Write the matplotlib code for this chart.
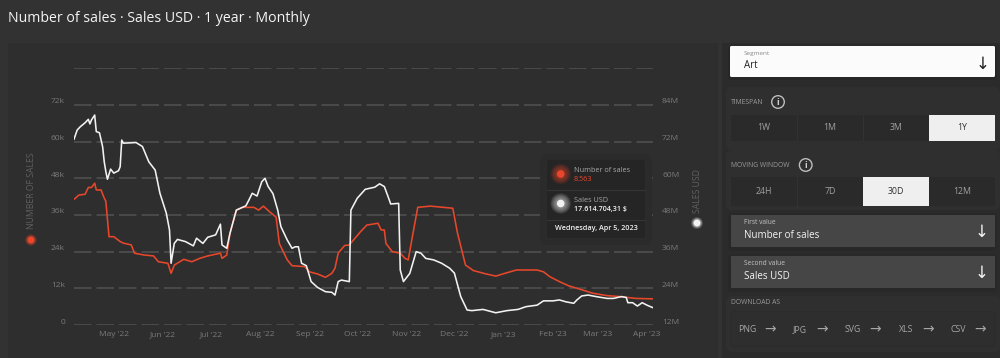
import matplotlib
matplotlib.use("Agg")
import matplotlib.pyplot as plt
import matplotlib.dates as mdates
from matplotlib.patches import FancyBboxPatch, Circle, Rectangle
from matplotlib.transforms import ScaledTranslation
import pandas as pd

plt.rcParams['font.family'] = ['Open Sans', 'DejaVu Sans']
plt.rcParams['lines.scale_dashes'] = False

# ---------------- data ----------------
START = "2022-04-06"
END = "2023-04-05"

# Number of sales (thousands), 30D moving window
sales_day = [0, 3, 7, 9, 11, 13, 14, 17, 19, 20, 22, 25, 29, 31, 36, 38, 44, 50, 53, 59,
             61, 63, 69, 74, 79, 84, 92, 93, 96, 98, 102, 106, 113, 116, 119, 123, 127,
             129, 134, 137, 145, 148, 153, 158, 162, 164, 166, 170, 173, 180, 184, 191,
             193, 195, 196, 200, 205, 208, 210, 213, 216, 224, 232, 238, 241, 246, 251,
             259, 265, 272, 278, 291, 295, 299, 305, 311, 318, 326, 335, 343, 353, 360, 364]
sales_k = [41.1, 42.5, 42.8, 45.0, 45.0, 46.4, 44.2, 44.2, 41.5, 40.5, 28.9, 28.9, 27.3,
           26.8, 26.2, 23.5, 22.9, 22.6, 20.7, 20.2, 16.9, 19.6, 21.5, 20.7, 21.8, 22.6,
           23.5, 21.8, 22.9, 30.0, 37.6, 38.5, 38.5, 37.6, 38.9, 37.0, 35.3, 26.7, 21.3,
           19.4, 19.1, 17.4, 16.7, 15.6, 16.9, 18.6, 23.5, 26.0, 26.2, 30.5, 32.7, 33.3,
           31.1, 31.1, 26.7, 24.0, 23.5, 21.8, 21.3, 30.0, 38.5, 38.9, 38.5, 38.2, 30.0,
           19.6, 17.8, 16.7, 16.0, 17.1, 18.0, 18.0, 17.4, 15.8, 14.2, 12.8, 11.7, 10.4,
           9.6, 9.3, 8.7, 8.6, 8.563]

# Sales USD (millions), 30D moving window
usd_day = [0, 2, 4, 7, 9, 10, 11, 13, 14, 16, 18, 19, 20, 21, 23, 25, 28, 29, 30, 31, 39,
           43, 47, 51, 54, 58, 60, 61, 63, 65, 70, 75, 77, 81, 84, 89, 92, 93, 96, 98, 102,
           108, 110, 112, 115, 118, 120, 122, 125, 128, 130, 134, 137, 139, 141, 143, 146,
           149, 153, 158, 162, 164, 166, 168, 173, 174, 178, 183, 189, 192, 195, 197, 199,
           204, 205, 207, 211, 215, 218, 221, 226, 231, 236, 239, 243, 247, 250, 257, 265,
           272, 279, 284, 291, 295, 301, 305, 309, 314, 316, 319, 323, 328, 335, 339, 344,
           347, 348, 351, 354, 357, 360, 364]
usd_m = [72.8, 75.8, 76.9, 78.2, 79.3, 77.8, 79.1, 80.7, 75.3, 74.9, 70.3, 65.4, 62.2,
         59.7, 63.0, 61.7, 62.5, 63.8, 72.5, 71.5, 71.7, 70.4, 65.4, 62.7, 55.1, 48.6, 43.1,
         32.2, 38.7, 40.0, 39.3, 37.9, 40.4, 38.7, 40.7, 41.5, 45.0, 38.2, 37.1, 42.0, 49.6,
         51.0, 53.0, 55.1, 54.2, 58.9, 60.0, 57.3, 55.0, 49.6, 44.2, 39.8, 37.1, 37.6, 37.6,
         32.2, 31.4, 26.2, 24.3, 22.9, 22.7, 21.8, 26.2, 26.7, 26.2, 49.6, 53.5, 56.4, 57.1,
         58.2, 57.3, 54.5, 51.6, 51.8, 30.0, 26.2, 28.9, 36.0, 35.5, 33.8, 33.3, 32.2, 30.6,
         29.0, 21.3, 16.9, 16.7, 17.1, 16.0, 16.7, 17.1, 18.0, 18.5, 19.9, 19.9, 20.2, 19.6,
         19.1, 20.2, 21.5, 21.8, 21.3, 20.7, 20.7, 21.3, 21.0, 19.3, 19.3, 18.2, 19.3, 18.5,
         17.61]

left_ticks = [0, 12, 24, 36, 48, 60, 72, 84]
left_labels = ["0", "12k", "24k", "36k", "48k", "60k", "72k", ""]
right_ticks = [12, 24, 36, 48, 60, 72, 84]
right_labels = ["12M", "24M", "36M", "48M", "60M", "72M", "84M"]

title = "Number of sales \u00b7 Sales USD \u00b7 1 year \u00b7 Monthly"
timespan_opts = ["1W", "1M", "3M", "1Y"]
window_opts = ["24H", "7D", "30D", "12M"]
download_opts = ["PNG", "JPG", "SVG", "XLS", "CSV"]

RED = "#e8472b"
WHITE = "#f2f2f2"

sales_dates = pd.to_datetime(START) + pd.to_timedelta(sales_day, unit="D")
usd_dates = pd.to_datetime(START) + pd.to_timedelta(usd_day, unit="D")

# ---------------- figure ----------------
W, H = 1000, 358
fig = plt.figure(figsize=(W / 100, H / 100), dpi=100, facecolor="#323232")

bg = fig.add_axes([0, 0, 1, 1], zorder=0)
bg.set_xlim(0, W); bg.set_ylim(H, 0); bg.axis("off")

def rrect(axx, x0, y0, x1, y1, color, r=3, z=1, ec="none", lw=0):
    p = FancyBboxPatch((x0, y0), x1 - x0, y1 - y0,
                       boxstyle=f"round,pad=0,rounding_size={r}",
                       fc=color, ec=ec, lw=lw, zorder=z)
    axx.add_patch(p)
    return p

# panels
rrect(bg, 8, 43, 718, 362, "#2e2e2e", r=2)
rrect(bg, 722, 43, 1000, 362, "#2b2b2b", r=2)

bg.text(8, 18, title, color="#f4f4f4", fontsize=10.2, ha="left", va="center")

# ---------------- main chart ----------------
ax = fig.add_axes([74 / W, (H - 325) / H, (653.3 - 74) / W, (325 - 68.3) / H], zorder=2)
ax.patch.set_alpha(0)
ax2 = ax.twinx()
ax2.set_zorder(2)
ax2.patch.set_alpha(0)

ax.plot(sales_dates, sales_k, color=RED, lw=1.15, zorder=3, solid_joinstyle="round")
ax2.plot(usd_dates, usd_m, color=WHITE, lw=1.15, zorder=3, solid_joinstyle="round")

ax.set_xlim(pd.to_datetime(START), pd.to_datetime(END))
ax.set_ylim(0, 84)
ax2.set_ylim(12, 96)

for a in (ax, ax2):
    for s in a.spines.values():
        s.set_visible(False)

ax.set_yticks(left_ticks)
ax.set_yticklabels(left_labels)
ax2.set_yticks(right_ticks)
ax2.set_yticklabels(right_labels)

ax.yaxis.grid(True, color="#4f4f4f", lw=1.2, linestyle=(0, (12.6, 3.6)))
ax.set_axisbelow(True)

ax.tick_params(axis="y", length=0, pad=6.5, labelsize=6, labelcolor="#7a7a7a")
ax2.tick_params(axis="y", length=0, pad=6.3, labelsize=6, labelcolor="#7a7a7a")
ax.xaxis.set_major_locator(mdates.MonthLocator())
ax.xaxis.set_major_formatter(mdates.DateFormatter("%b '%y"))
ax.tick_params(axis="x", length=0, pad=4.5, labelsize=6, labelcolor="#7a7a7a")

up = ScaledTranslation(0, 4 / 100, fig.dpi_scale_trans)
for t in ax.get_yticklabels() + ax2.get_yticklabels():
    t.set_transform(t.get_transform() + up)

# ---------------- overlay ----------------
ov = fig.add_axes([0, 0, 1, 1], zorder=5)
ov.set_xlim(0, W); ov.set_ylim(H, 0); ov.axis("off")
ov.patch.set_alpha(0)

def glow_dot(x, y, color, r, glow, a=0.07):
    n = 8
    for i in range(n, 0, -1):
        rr = r + glow * i / n
        ov.add_patch(Circle((x, y), rr, fc=color, ec="none", alpha=a, zorder=20))
    ov.add_patch(Circle((x, y), r, fc=color, ec="none", zorder=21))

# axis titles
ov.text(31, 191, "NUMBER OF SALES", rotation=90, color="#606060", fontsize=6.2,
        ha="center", va="center")
glow_dot(31, 240, RED, 3.4, 2.5, 0.1)
ov.text(697, 191.5, "SALES USD", rotation=90, color="#606060", fontsize=6.2,
        ha="center", va="center")
glow_dot(697, 223, WHITE, 3.4, 2.5, 0.1)

# tooltip
rrect(ov, 540, 154, 652, 245, "#2b2b2b", r=8, z=10)
rrect(ov, 547, 160, 645, 238, "#252525", r=2, z=11)
ov.plot([547, 645], [189.5, 189.5], color="#363636", lw=0.8, zorder=12)
ov.plot([547, 645], [219.5, 219.5], color="#363636", lw=0.8, zorder=12)
glow_dot(560.7, 174, RED, 3.8, 6.5, 0.085)
glow_dot(560.7, 203.5, WHITE, 3.8, 6.5, 0.085)
ov.text(574, 170.5, "Number of sales", color="#a8a8a8", fontsize=5.2, ha="left", va="center", zorder=22)
ov.text(574, 179.5, "8.563", color=RED, fontsize=5.2, ha="left", va="center", zorder=22)
ov.text(574, 200, "Sales USD", color="#a8a8a8", fontsize=5.2, ha="left", va="center", zorder=22)
ov.text(574, 209.5, "17.614.704,31 $", color="#f4f4f4", fontsize=5.1, fontweight="semibold",
        ha="left", va="center", zorder=22)
ov.text(596, 229, "Wednesday, Apr 5, 2023", color="#f0f0f0", fontsize=5.2,
        fontweight="semibold", ha="center", va="center", zorder=22)

# ---------------- right panel ----------------
# segment dropdown
rrect(ov, 728, 46, 997, 80, "#262626", r=4, z=1)
rrect(ov, 730, 46, 995, 77, "#fbfbfb", r=1.5, z=2)
ov.text(744, 53.5, "Segment", color="#8a8a8a", fontsize=4.6, ha="left", va="center", zorder=3)
ov.text(744, 66, "Art", color="#222222", fontsize=7, ha="left", va="center", zorder=3)
ov.text(983, 64, "\u2193", color="#222222", fontsize=12, ha="center", va="center",
        family="DejaVu Sans", zorder=3)

# sections
rrect(ov, 726, 87, 1000, 150, "#2f2f2f", r=6, z=1)
rrect(ov, 726, 150, 1000, 210, "#2f2f2f", r=6, z=1)

def info_icon(x, y):
    ov.add_patch(Circle((x, y), 6.3, fc="none", ec="#bdbdbd", lw=1.0, zorder=3))
    ov.text(x, y + 0.5, "i", color="#d0d0d0", fontsize=6.5, fontweight="bold",
            ha="center", va="center", zorder=4)

ov.text(731, 103, "TIMESPAN", color="#9a9a9a", fontsize=4.9, ha="left", va="center", zorder=3)
info_icon(778, 102)
ov.text(731, 165.5, "MOVING WINDOW", color="#9a9a9a", fontsize=4.9, ha="left", va="center", zorder=3)
info_icon(805.7, 165)

def button_row(y0, y1, opts, sel):
    x0, x1 = 731, 995
    w = (x1 - x0) / len(opts)
    for i, o in enumerate(opts):
        bx = x0 + i * w
        selected = (i == sel)
        fc = "#efefef" if selected else "#2a2a2a"
        ov.add_patch(Rectangle((bx, y0), w, y1 - y0, fc=fc, ec="none", zorder=2))
        if i > 0 and not selected and (i - 1) != sel:
            ov.plot([bx, bx], [y0, y1], color="#333333", lw=0.7, zorder=3)
        ov.text(bx + w / 2, (y0 + y1) / 2, o, color="#333333" if selected else "#a0a0a0",
                fontsize=6.3, ha="center", va="center", zorder=4)

button_row(115, 141, timespan_opts, 3)
button_row(177, 205.7, window_opts, 2)

def dropdown(y0, y1, small, big):
    rrect(ov, 728, y0 - 2, 997, y1 + 4, "#282828", r=5, z=1)
    ov.add_patch(Rectangle((731, y0), 264, y1 - y0, fc="#464646", ec="none", zorder=2))
    ov.text(744, y0 + 7.5, small, color="#c4c4c4", fontsize=4.8, ha="left", va="center", zorder=3)
    ov.text(744, y0 + 20.5, big, color="#f4f4f4", fontsize=7, ha="left", va="center", zorder=3)
    ov.text(982, y0 + 17, "\u2193", color="#f4f4f4", fontsize=12, ha="center", va="center",
            family="DejaVu Sans", zorder=3)

dropdown(215, 246.7, "First value", "Number of sales")
dropdown(256, 287.7, "Second value", "Sales USD")

ov.text(731, 302.5, "DOWNLOAD AS", color="#9a9a9a", fontsize=4.9, ha="left", va="center", zorder=3)
rrect(ov, 726, 296, 1000, 352, "#2f2f2f", r=6, z=1)
rrect(ov, 731, 311.7, 995, 346.7, "#2e2e2e", r=4, z=2, ec="#2a2a2a", lw=0.5)
lab_x = [747.7, 800, 853, 906, 958]
for lx, o in zip(lab_x, download_opts):
    ov.text(lx, 329.5, o, color="#a6a6a6", fontsize=6.3, ha="center", va="center", zorder=3)
    ov.text(lx + 22, 329, "\u2192", color="#a6a6a6", fontsize=10, ha="center", va="center",
            family="DejaVu Sans", zorder=3)

fig.savefig("out.png", dpi=100, facecolor=fig.get_facecolor())
